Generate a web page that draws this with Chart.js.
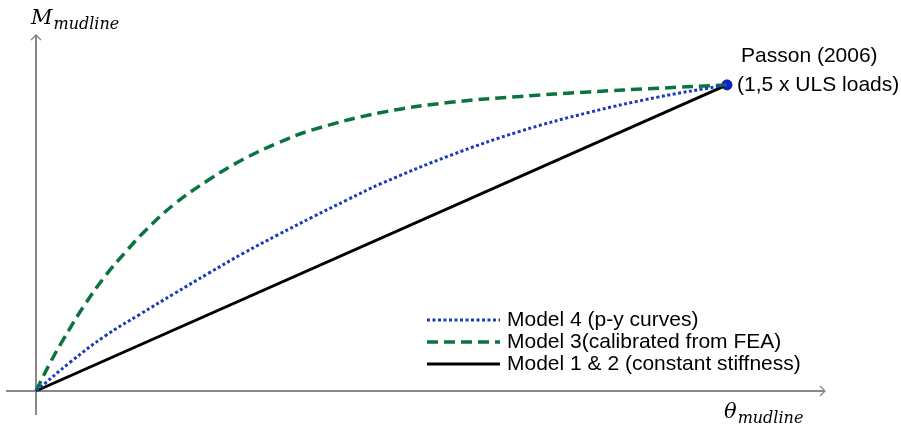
<!DOCTYPE html>
<html>
<head>
<meta charset="utf-8">
<script src="https://cdn.jsdelivr.net/npm/chart.js@4/dist/chart.umd.min.js"></script>
<style>
  html, body { margin: 0; padding: 0; background: #fff; }
  canvas { display: block; }
</style>
</head>
<body>
<canvas id="mudlineChart" width="901" height="433"></canvas>
<script>
// normalised rotation / moment at mudline (1 = Passon 2006 point)
const thetaModel4 = [0, 0.05, 0.10, 0.15, 0.20, 0.25, 0.30, 0.35, 0.40, 0.45, 0.50, 0.60, 0.70, 0.80, 0.90, 1.00];
const momentModel4 = [0, 0.095, 0.18, 0.25, 0.318, 0.385, 0.45, 0.51, 0.568, 0.624, 0.678, 0.77, 0.848, 0.91, 0.96, 1.00];

const thetaModel3 = [0, 0.02, 0.04, 0.07, 0.10, 0.13, 0.16, 0.20, 0.25, 0.30, 0.35, 0.40, 0.50, 0.60, 0.70, 0.80, 0.90, 1.00];
const momentModel3 = [0, 0.09, 0.17, 0.28, 0.375, 0.455, 0.528, 0.61, 0.69, 0.757, 0.81, 0.853, 0.91, 0.943, 0.962, 0.977, 0.989, 1.00];

const thetaModel12 = [0, 1];
const momentModel12 = [0, 1];

const passonTheta = [1];
const passonMoment = [1];

const seriesLabels = ['Model 4 (p-y curves)', 'Model 3(calibrated from FEA)', 'Model 1 & 2 (constant stiffness)'];
const passonLabel = ['Passon (2006)', '(1,5 x ULS loads)'];

function toPoints(xs, ys) {
    return xs.map((x, i) => ({ x: x, y: ys[i] }));
}

const axisColor = '#888888';
const textFont = '21px "Liberation Sans", Arial, sans-serif';

// arrows for the two axes, drawn through the origin
const axesPlugin = {
    id: 'axes',
    beforeDatasetsDraw(chart) {
        const { ctx, chartArea, scales } = chart;
        const x0 = scales.x.getPixelForValue(0);
        const y0 = scales.y.getPixelForValue(0);
        ctx.save();
        ctx.strokeStyle = axisColor;
        ctx.lineWidth = 2;
        ctx.beginPath();
        ctx.moveTo(chartArea.left, y0);
        ctx.lineTo(chartArea.right, y0);
        ctx.moveTo(x0, chartArea.bottom);
        ctx.lineTo(x0, chartArea.top);
        ctx.stroke();

        ctx.lineWidth = 1.3;
        ctx.beginPath();
        ctx.moveTo(chartArea.right - 5, y0 - 5);
        ctx.lineTo(chartArea.right, y0);
        ctx.lineTo(chartArea.right - 5, y0 + 5);
        ctx.moveTo(x0 - 5, chartArea.top + 5);
        ctx.lineTo(x0, chartArea.top);
        ctx.lineTo(x0 + 5, chartArea.top + 5);
        ctx.stroke();
        ctx.restore();
    }
};

// axis titles with subscripts
function drawSubscripted(ctx, main, sub, x, y) {
    ctx.font = 'italic 21px "DejaVu Serif", serif';
    ctx.fillText(main, x, y);
    const w = ctx.measureText(main).width;
    ctx.font = 'italic 16px "DejaVu Serif", serif';
    ctx.fillText(sub, x + w + 1, y + 5);
}

const titlesPlugin = {
    id: 'titles',
    afterDraw(chart) {
        const { ctx } = chart;
        ctx.save();
        ctx.fillStyle = '#000';
        ctx.textBaseline = 'alphabetic';
        ctx.textAlign = 'left';
        drawSubscripted(ctx, 'M', 'mudline', 31, 24);
        drawSubscripted(ctx, 'θ', 'mudline', 724, 418);
        ctx.restore();
    }
};

// note beside the end point
const notePlugin = {
    id: 'note',
    afterDatasetsDraw(chart) {
        const { ctx, scales } = chart;
        const px = scales.x.getPixelForValue(passonTheta[0]);
        const py = scales.y.getPixelForValue(passonMoment[0]);
        ctx.save();
        ctx.font = textFont;
        ctx.fillStyle = '#000';
        ctx.textBaseline = 'middle';
        ctx.fillText(passonLabel[0], px + 14, py - 29);
        ctx.fillText(passonLabel[1], px + 10, py);
        ctx.restore();
    }
};

// legend in the lower right of the plot
const legendPlugin = {
    id: 'lineLegend',
    afterDraw(chart) {
        const { ctx } = chart;
        const x1 = 427, x2 = 500, tx = 507;
        const rows = [320, 342, 364];
        ctx.save();
        ctx.font = textFont;
        ctx.textBaseline = 'middle';
        chart.data.datasets.slice(0, 3).forEach((ds, i) => {
            const y = rows[i];
            ctx.strokeStyle = ds.borderColor;
            ctx.lineWidth = ds.borderWidth;
            ctx.setLineDash(ds.borderDash || []);
            ctx.beginPath();
            ctx.moveTo(x1, y);
            ctx.lineTo(x2, y);
            ctx.stroke();
            ctx.setLineDash([]);
            ctx.fillStyle = '#000';
            ctx.fillText(ds.label, tx, y);
        });
        ctx.restore();
    }
};

const ctx = document.getElementById('mudlineChart').getContext('2d');

const mudlineChart = new Chart(ctx, {
    type: 'line',
    data: {
        datasets: [
            {
                label: seriesLabels[0],
                data: toPoints(thetaModel4, momentModel4),
                borderColor: '#1a3cb8',
                borderWidth: 3,
                borderDash: [3, 2.5],
                pointRadius: 0,
                tension: 0.4
            },
            {
                label: seriesLabels[1],
                data: toPoints(thetaModel3, momentModel3),
                borderColor: '#0a7440',
                borderWidth: 3.5,
                borderDash: [11, 6],
                pointRadius: 0,
                tension: 0.4
            },
            {
                label: seriesLabels[2],
                data: toPoints(thetaModel12, momentModel12),
                borderColor: '#000000',
                borderWidth: 3,
                pointRadius: 0
            },
            {
                label: passonLabel[0],
                data: toPoints(passonTheta, passonMoment),
                showLine: false,
                pointRadius: 5,
                pointBackgroundColor: '#0a1cf0',
                pointBorderColor: '#10206a',
                pointBorderWidth: 1
            }
        ]
    },
    options: {
        responsive: false,
        animation: false,
        layout: {
            padding: { left: 6, right: 76, top: 35, bottom: 18 }
        },
        scales: {
            x: { type: 'linear', min: -0.0434, max: 1.1418, display: false },
            y: { type: 'linear', min: -0.0784, max: 1.163, display: false }
        },
        plugins: {
            legend: { display: false },
            tooltip: { enabled: false }
        }
    },
    plugins: [axesPlugin, titlesPlugin, notePlugin, legendPlugin]
});
</script>
</body>
</html>
